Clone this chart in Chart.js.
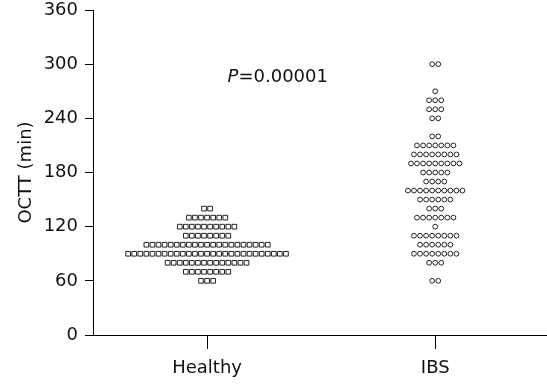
<!DOCTYPE html>
<html>
<head>
<meta charset="utf-8">
<script src="https://cdn.jsdelivr.net/npm/chart.js@4/dist/chart.umd.min.js"></script>
<style>
  html, body { margin: 0; padding: 0; background: #fff; }
  #wrap { width: 547px; height: 385px; }
</style>
</head>
<body>
<div id="wrap"><canvas id="chart" width="547" height="385"></canvas></div>
<script>
// groups on the x axis
const categories = ['Healthy', 'IBS'];
const yTicks = [0, 60, 120, 180, 240, 300, 360];

// OCTT values (min) and how many subjects sit on each level
const healthyLevels = [140, 130, 120, 110, 100, 90, 80, 70, 60];
const healthyCounts = [2, 7, 10, 8, 21, 27, 14, 8, 3];
const ibsLevels = [300, 270, 260, 250, 240, 220, 210, 200, 190, 180, 170, 160, 150, 140, 130, 120, 110, 100, 90, 80, 60];
const ibsCounts = [2, 1, 3, 3, 2, 2, 7, 8, 9, 5, 4, 10, 6, 3, 7, 1, 8, 6, 8, 3, 2];
const medians = [90, 160];
const pValue = '0.00001';

const FONT = "'DejaVu Sans', sans-serif";
const INK = '#222';
const STEP = 0.0266; // horizontal spacing of dots in x units

// spread each level's dots side by side around the group centre
function spread(levels, counts, centre) {
  const pts = [];
  levels.forEach((v, r) => {
    const n = counts[r];
    for (let i = 0; i < n; i++) pts.push({x: centre + (i - (n - 1) / 2) * STEP, y: v});
  });
  return pts;
}

function medianLine(idx, half) {
  const c = idx + 1;
  return [{x: c - half, y: medians[idx]}, {x: c + half, y: medians[idx]}];
}

const pLabel = {
  id: 'pLabel',
  afterDraw(chart) {
    const {ctx, scales: {x, y}} = chart;
    const px = x.getPixelForValue(1.09);
    const py = y.getPixelForValue(280);
    ctx.save();
    ctx.fillStyle = '#111';
    ctx.textBaseline = 'alphabetic';
    ctx.font = 'italic 18px ' + FONT;
    ctx.fillText('P', px, py);
    const w = ctx.measureText('P').width;
    ctx.font = '18px ' + FONT;
    ctx.fillText('=' + pValue, px + w, py);
    ctx.restore();
  }
};

new Chart(document.getElementById('chart'), {
  type: 'scatter',
  data: {
    datasets: [
      {
        label: categories[0],
        data: spread(healthyLevels, healthyCounts, 1),
        pointStyle: 'rect',
        pointRadius: 3.3,
        pointBorderWidth: 1,
        borderColor: INK,
        backgroundColor: '#fff'
      },
      {
        label: categories[1],
        data: spread(ibsLevels, ibsCounts, 2),
        pointStyle: 'circle',
        pointRadius: 2.4,
        pointBorderWidth: 1,
        borderColor: INK,
        backgroundColor: '#fff'
      },
      {
        data: medianLine(0, 0.1),
        showLine: true,
        pointRadius: 0,
        borderWidth: 1,
        borderColor: INK
      },
      {
        data: medianLine(1, 0.13),
        showLine: true,
        pointRadius: 0,
        borderWidth: 1,
        borderColor: INK
      }
    ]
  },
  options: {
    responsive: false,
    animation: false,
    layout: {autoPadding: false, padding: {top: 10, right: 0, bottom: 0, left: 0}},
    plugins: {legend: {display: false}, tooltip: {enabled: false}},
    scales: {
      x: {
        type: 'linear',
        min: 0.5,
        max: 2.49,
        afterBuildTicks: s => { s.ticks = categories.map((c, i) => ({value: i + 1})); },
        afterFit: s => { s.height = 50; s.paddingLeft = 0; s.paddingRight = 0; },
        ticks: {
          color: '#111',
          padding: 9,
          font: {family: FONT, size: 18},
          callback: v => categories[v - 1]
        },
        grid: {drawOnChartArea: false, tickLength: 14, color: '#000', lineWidth: 1},
        border: {display: true, color: '#000', width: 1}
      },
      y: {
        min: 0,
        max: 360,
        afterBuildTicks: s => { s.ticks = yTicks.map(v => ({value: v})); },
        afterFit: s => { s.width = 93; s.paddingTop = 0; s.paddingBottom = 0; },
        ticks: {
          color: '#111',
          padding: 7,
          font: {family: FONT, size: 18, lineHeight: 1}
        },
        grid: {drawOnChartArea: false, tickLength: 8, color: '#000', lineWidth: 1},
        border: {display: true, color: '#000', width: 1},
        title: {
          display: true,
          text: 'OCTT (min)',
          color: '#111',
          font: {family: FONT, size: 18},
          padding: {top: 16, bottom: 0}
        }
      }
    }
  },
  plugins: [pLabel]
});
</script>
</body>
</html>
